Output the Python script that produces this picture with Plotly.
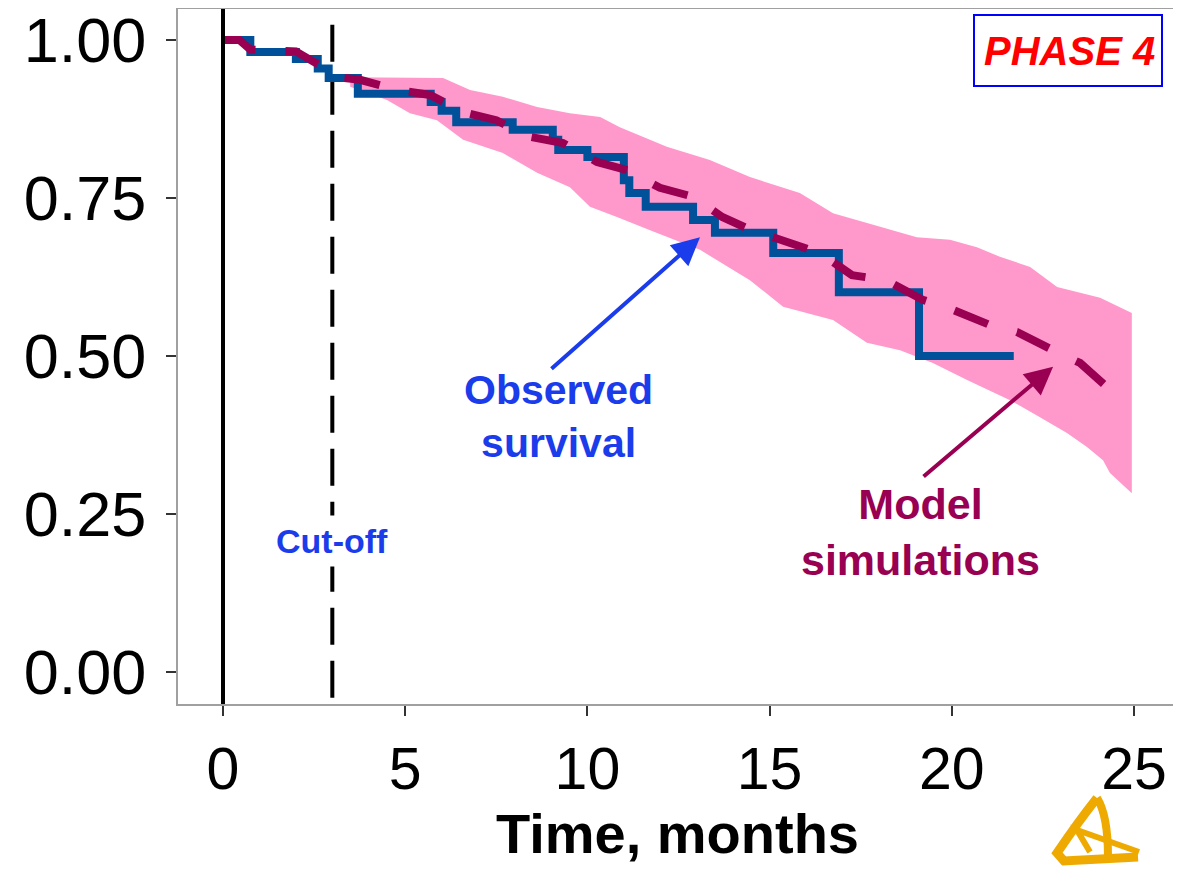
import plotly.graph_objects as go

# ---------------- data ----------------
obs_t = [0, 0.75, 2.0, 2.6, 2.9, 3.7, 5.7, 6.0, 6.4, 7.95, 9.05, 9.2, 10.0, 11.0, 11.15,
         11.6, 12.9, 13.5, 15.1, 16.9, 19.1, 21.7]
obs_s = [1.0, 0.981, 0.97, 0.955, 0.94, 0.915, 0.902, 0.888, 0.870, 0.858, 0.842, 0.826,
         0.815, 0.778, 0.758, 0.736, 0.715, 0.695, 0.663, 0.601, 0.50, 0.50]

model_t = [0, 0.45, 0.75, 2.0, 2.5, 2.9, 3.3, 3.76, 4.78, 5.68, 6.59, 7.5, 8.4, 9.33, 10.26,
           11.09, 11.99, 12.9, 13.7, 14.46, 15.48, 16.38, 17.26, 18.2, 19.2, 20.03, 21.05,
           21.79, 22.78, 23.52, 24.26]
model_s = [1.0, 1.0, 0.985, 0.982, 0.965, 0.953, 0.94, 0.937, 0.921, 0.913, 0.886, 0.873,
           0.847, 0.837, 0.807, 0.794, 0.766, 0.752, 0.72, 0.70, 0.679, 0.663, 0.628, 0.62,
           0.589, 0.573, 0.549, 0.538, 0.509, 0.489, 0.451]

pi_upper_t = [3.49, 6.04, 6.78, 7.68, 8.62, 9.52, 10.35, 10.89, 12.18, 13.36, 14.46, 15.83,
              16.74, 18.11, 19.04, 19.95, 20.69, 21.32, 22.15, 22.89, 24.07, 24.94]
pi_upper = [0.941, 0.940, 0.921, 0.910, 0.894, 0.884, 0.878, 0.862, 0.831, 0.810, 0.783, 0.758,
            0.726, 0.704, 0.688, 0.684, 0.672, 0.657, 0.641, 0.609, 0.592, 0.568]

pi_lower_t = [3.49, 4.5, 5.13, 5.87, 6.59, 7.68, 8.62, 9.52, 10.07, 10.81, 11.72, 13.09, 14.46,
              15.37, 16.74, 17.67, 18.58, 19.48, 20.42, 21.6, 22.42, 23.16, 23.71, 24.15,
              24.34, 24.94]
pi_lower = [0.926, 0.905, 0.884, 0.873, 0.842, 0.821, 0.790, 0.767, 0.736, 0.720, 0.699, 0.668,
            0.620, 0.578, 0.557, 0.521, 0.509, 0.489, 0.462, 0.430, 0.403, 0.378, 0.356, 0.335,
            0.315, 0.283]

x_ticks = [0, 5, 10, 15, 20, 25]
y_ticks = [0.0, 0.25, 0.5, 0.75, 1.0]
y_ticktext = ["0.00", "0.25", "0.50", "0.75", "1.00"]
cutoff_month = 3

# ---------------- styles ----------------
FONT = "Liberation Sans, Arial, sans-serif"
BLUE_LINE = "#00509a"
MAROON = "#990052"
PINK = "#ff99cc"
TXT_BLUE = "#1a3ceb"

# page has an 8px body margin -> figure is drawn 8px right/down
OFF = 8
W, H = 1181 - OFF, 869 - OFF
PLOT_L, PLOT_R, PLOT_T, PLOT_B = 178, 1177, 9, 704   # page pixels
ML, MR, MT, MB = PLOT_L - OFF, W - (PLOT_R - OFF), PLOT_T - OFF, H - (PLOT_B - OFF)

fig = go.Figure()

fig.add_trace(go.Scatter(x=pi_lower_t, y=pi_lower, mode="lines",
                         line=dict(width=0, color=PINK), hoverinfo="skip", showlegend=False))
fig.add_trace(go.Scatter(x=pi_upper_t, y=pi_upper, mode="lines", fill="tonexty",
                         fillcolor=PINK, line=dict(width=0, color=PINK),
                         hoverinfo="skip", showlegend=False))

# cut-off dashed line
fig.add_trace(go.Scatter(x=[cutoff_month, cutoff_month], y=[1.024, -0.06], mode="lines",
                         line=dict(color="black", width=4, dash="37px,16px"),
                         showlegend=False, hoverinfo="skip"))

fig.add_trace(go.Scatter(x=obs_t, y=obs_s, mode="lines",
                         line=dict(color=BLUE_LINE, width=8, shape="hv"),
                         showlegend=False))
fig.add_trace(go.Scatter(x=model_t, y=model_s, mode="lines",
                         line=dict(color=MAROON, width=8, dash="36px,30px"),
                         showlegend=False))

fig.add_shape(type="line", xref="x", yref="paper", x0=0, x1=0, y0=0, y1=1,
              line=dict(color="black", width=4))

# annotations
fig.add_annotation(x=cutoff_month, y=0.207, xref="x", yref="y", text="<b>Cut-off</b>",
                   showarrow=False, font=dict(family=FONT, size=34, color=TXT_BLUE),
                   bgcolor="white", borderpad=6)
fig.add_annotation(x=9.22, y=0.404, xref="x", yref="y", text="<b>Observed<br>survival</b>",
                   showarrow=False, font=dict(family=FONT, size=41, color=TXT_BLUE))
fig.add_annotation(x=13.09, y=0.688, xref="x", yref="y", ax=-150, ay=133, text="",
                   showarrow=True, arrowhead=2, arrowsize=1.4, arrowwidth=4,
                   arrowcolor=TXT_BLUE)
fig.add_annotation(x=19.13, y=0.2215, xref="x", yref="y", text="<b>Model<br>simulations</b>",
                   showarrow=False, font=dict(family=FONT, size=43, color=MAROON))
fig.add_annotation(x=22.78, y=0.483, xref="x", yref="y", ax=-131, ay=111, text="",
                   showarrow=True, arrowhead=2, arrowsize=1.4, arrowwidth=4,
                   arrowcolor=MAROON)


def px2paper(px, py):
    """page pixel -> paper coordinates"""
    return (px - PLOT_L) / (PLOT_R - PLOT_L), (PLOT_B - py) / (PLOT_B - PLOT_T)


# PHASE 4 box
bx0, by0 = px2paper(974, 86)
bx1, by1 = px2paper(1162, 15)
fig.add_shape(type="rect", xref="paper", yref="paper", x0=bx0, x1=bx1, y0=by0, y1=by1,
              line=dict(color="#0000ff", width=2), fillcolor="white")
cx, cy = px2paper(1069, 51)
fig.add_annotation(x=cx, y=cy, xref="paper", yref="paper", xanchor="center", yanchor="middle",
                   text="<b><i>PHASE 4</i></b>", showarrow=False,
                   font=dict(family=FONT, size=40, color="#ff0000"))


# decorative logo (bottom right)
def path_from(points_cmds):
    out = []
    for cmd, pts in points_cmds:
        coords = " ".join("%.5f,%.5f" % px2paper(*p) for p in pts)
        out.append(cmd + " " + coords)
    return " ".join(out)


logo_color = "#eeaa00"
p1 = path_from([("M", [(1097, 798)]), ("Q", [(1078, 822), (1057, 853)]),
                ("L", [(1064, 861)]), ("L", [(1138, 857)])])
p2 = path_from([("M", [(1097, 798)]), ("C", [(1106, 812), (1108, 838), (1108, 857)])])
p3 = path_from([("M", [(1139, 852)]), ("L", [(1077, 830)]), ("L", [(1090, 852)])])
for p, w in ((p1, 9), (p2, 8), (p3, 6)):
    fig.add_shape(type="path", xref="paper", yref="paper", path=p,
                  line=dict(color=logo_color, width=w))

fig.update_layout(
    width=W, height=H,
    margin=dict(l=ML, r=MR, t=MT, b=MB, autoexpand=False),
    paper_bgcolor="white", plot_bgcolor="white",
    font=dict(family=FONT, color="black"),
    showlegend=False,
)
fig.update_xaxes(range=[-1.235, 26.18], tickvals=x_ticks, showgrid=False, zeroline=False,
                 showline=True, linecolor="#a0a0a0", linewidth=2, mirror=True,
                 ticks="outside", ticklen=10, tickwidth=2, tickcolor="#333333",
                 tickfont=dict(family=FONT, size=59), ticklabelstandoff=2,
                 ticklabeloverflow="allow", automargin=False,
                 title=dict(text="<b>Time, months</b>", font=dict(family=FONT, size=56),
                            standoff=6))
fig.update_yaxes(range=[-0.0506, 1.049], tickvals=y_ticks, ticktext=y_ticktext,
                 showgrid=False, zeroline=False,
                 showline=True, linecolor="#a0a0a0", linewidth=2, mirror=True,
                 ticks="outside", ticklen=10, tickwidth=2, tickcolor="#333333",
                 tickfont=dict(family=FONT, size=63), ticklabelstandoff=7,
                 ticklabeloverflow="allow", automargin=False)

fig.write_html("out.html")
